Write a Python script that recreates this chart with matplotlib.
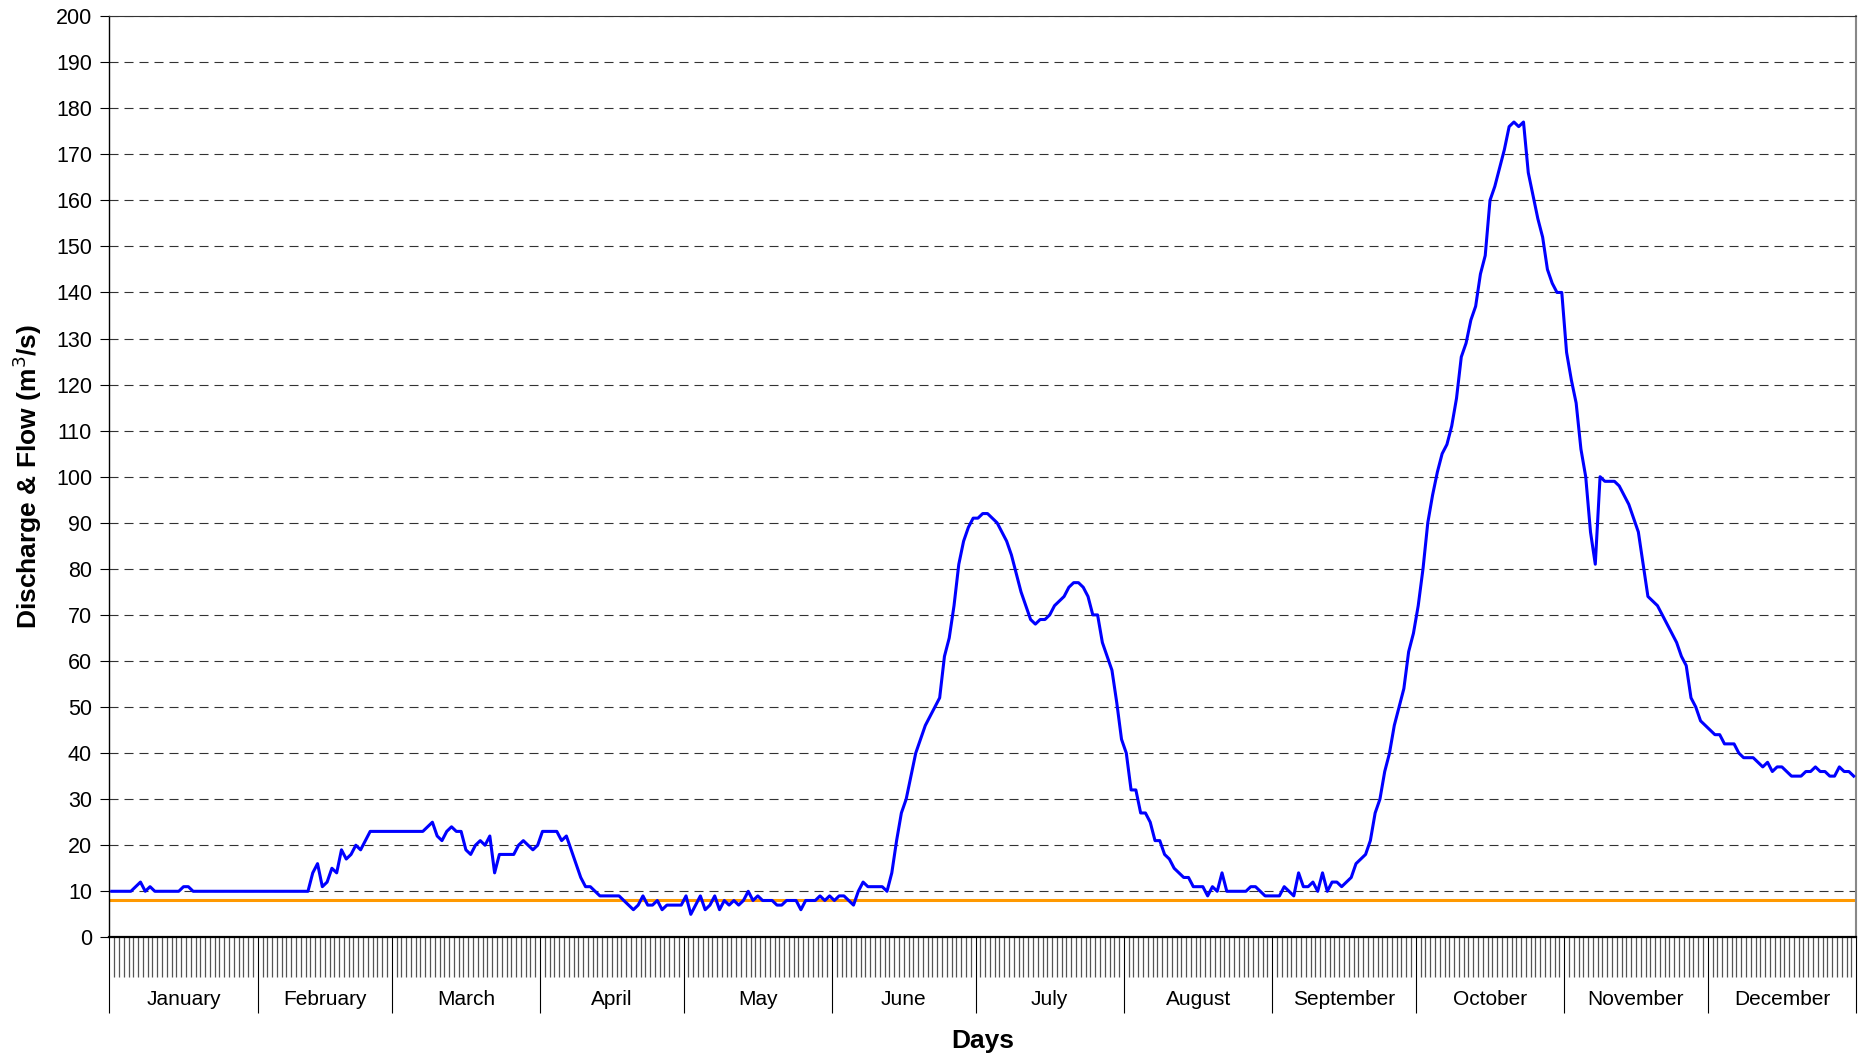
"""
Daily discharge for one year with the minimum-flow line
"""
import matplotlib.pyplot as plt
import numpy as np

plt.rcParams['font.family'] = ['Liberation Sans', 'DejaVu Sans']
plt.rcParams['lines.scale_dashes'] = False

# Data (m3/s, one value per day)
months = ['January', 'February', 'March', 'April', 'May', 'June', 'July',
          'August', 'September', 'October', 'November', 'December']
month_days = [31, 28, 31, 30, 31, 30, 31, 31, 30, 31, 30, 31]

jan = [10, 10, 10, 10, 10, 11, 12, 10, 11, 10, 10, 10, 10, 10, 10, 11, 11, 10,
       10, 10, 10, 10, 10, 10, 10, 10, 10, 10, 10, 10, 10]
feb = [10, 10, 10, 10, 10, 10, 10, 10, 10, 10, 10, 14, 16, 11, 12, 15, 14, 19,
       17, 18, 20, 19, 21, 23, 23, 23, 23, 23]
mar = [23, 23, 23, 23, 23, 23, 23, 24, 25, 22, 21, 23, 24, 23, 23, 19, 18, 20,
       21, 20, 22, 14, 18, 18, 18, 18, 20, 21, 20, 19, 20]
apr = [23, 23, 23, 23, 21, 22, 19, 16, 13, 11, 11, 10, 9, 9, 9, 9, 9, 8, 7, 6,
       7, 9, 7, 7, 8, 6, 7, 7, 7, 7]
may = [9, 5, 7, 9, 6, 7, 9, 6, 8, 7, 8, 7, 8, 10, 8, 9, 8, 8, 8, 7, 7, 8, 8, 8,
       6, 8, 8, 8, 9, 8, 9]
jun = [8, 9, 9, 8, 7, 10, 12, 11, 11, 11, 11, 10, 14, 21, 27, 30, 35, 40, 43,
       46, 48, 50, 52, 61, 65, 72, 81, 86, 89, 91]
jul = [91, 92, 92, 91, 90, 88, 86, 83, 79, 75, 72, 69, 68, 69, 69, 70, 72, 73,
       74, 76, 77, 77, 76, 74, 70, 70, 64, 61, 58, 51, 43]
aug = [40, 32, 32, 27, 27, 25, 21, 21, 18, 17, 15, 14, 13, 13, 11, 11, 11, 9,
       11, 10, 14, 10, 10, 10, 10, 10, 11, 11, 10, 9, 9]
sep = [9, 9, 11, 10, 9, 14, 11, 11, 12, 10, 14, 10, 12, 12, 11, 12, 13, 16, 17,
       18, 21, 27, 30, 36, 40, 46, 50, 54, 62, 66]
oct_ = [72, 80, 90, 96, 101, 105, 107, 111, 117, 126, 129, 134, 137, 144, 148,
        160, 163, 167, 171, 176, 177, 176, 177, 166, 161, 156, 152, 145, 142,
        140, 140]
nov = [127, 121, 116, 106, 100, 88, 81, 100, 99, 99, 99, 98, 96, 94, 91, 88,
       81, 74, 73, 72, 70, 68, 66, 64, 61, 59, 52, 50, 47, 46]
dec = [45, 44, 44, 42, 42, 42, 40, 39, 39, 39, 38, 37, 38, 36, 37, 37, 36, 35,
       35, 35, 36, 36, 37, 36, 36, 35, 35, 37, 36, 36, 35]

flow = np.array(jan + feb + mar + apr + may + jun + jul + aug + sep + oct_
                + nov + dec)
min_flow = 8

# Plot
fig = plt.figure(figsize=(18.6, 10.57), dpi=100)
ax = fig.add_axes([0.0588, 0.1132, 0.9391, 0.8716])

days = np.arange(len(flow)) + 0.5
ax.plot(days, flow, color='#0000FF', lw=2.2, zorder=3)
ax.axhline(min_flow, color='#FF9900', lw=2.2, zorder=2)

ax.set_xlim(0, 365)
ax.set_ylim(0, 200)
ax.set_yticks(np.arange(0, 201, 10))
ax.yaxis.grid(True, linestyle=(0, (6.5, 4.3)), color='#333333', lw=0.8)
ax.tick_params(axis='y', direction='out', length=6.5, width=0.8,
               labelsize=15.5, pad=6)

# month separators (major) and one tick per day (minor)
bounds = np.cumsum([0] + month_days)
ax.set_xticks(bounds)
ax.set_xticklabels([])
ax.set_xticks(np.arange(0, 366), minor=True)
ax.tick_params(axis='x', which='major', direction='out', length=55,
               width=0.8, color='black')
ax.tick_params(axis='x', which='minor', direction='out', length=29,
               width=0.9, color='#555555')

centers = (bounds[:-1] + bounds[1:]) / 2
for c, m in zip(centers, months):
    ax.text(c, -0.068, m, transform=ax.get_xaxis_transform(),
            ha='center', va='center', fontsize=15)

ax.text(0.5, -0.1125, 'Days', transform=ax.transAxes, ha='center',
        va='center', fontsize=19, fontweight='bold')
ax.set_ylabel('Discharge & Flow (m$^3$/s)', fontsize=19, fontweight='bold')
ax.yaxis.set_label_coords(-0.0377, 0.5)

ax.spines['bottom'].set_linewidth(1.6)
ax.spines['left'].set_linewidth(1.0)
ax.spines['top'].set_color('#333333')
ax.spines['right'].set_color('#888888')
ax.spines['right'].set_linewidth(1.5)

fig.savefig('out.png', dpi=100)
